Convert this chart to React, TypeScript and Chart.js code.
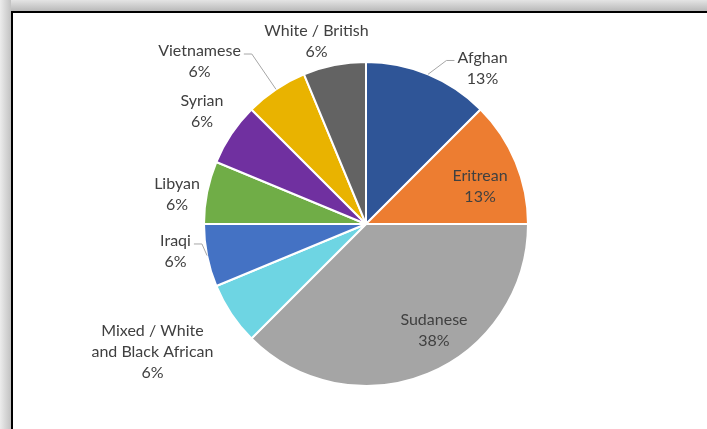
import React, { useEffect, useRef } from "react";
import { Chart, registerables } from "chart.js";

Chart.register(...registerables);

// ---- data ----
const categories: string[] = [
  "Afghan",
  "Eritrean",
  "Sudanese",
  "Mixed / White\nand Black African",
  "Iraqi",
  "Libyan",
  "Syrian",
  "Vietnamese",
  "White / British",
];
const counts: number[] = [2, 2, 6, 1, 1, 1, 1, 1, 1];
const colors: string[] = [
  "#2F5597",
  "#ED7D31",
  "#A5A5A5",
  "#6ED5E3",
  "#4472C4",
  "#70AD47",
  "#7030A0",
  "#E9B300",
  "#636363",
];

// ---- label layout (polar, relative to pie centre: degrees clockwise from top, radius factor) ----
const labelDeg: number[] = [36.75, 71.57, 147.45, 239.06, 261.79, 279.02, 304.45, 314.3, 344.82];
const labelRf: number[] = [1.202, 0.742, 0.78, 1.537, 1.188, 1.181, 1.228, 1.436, 1.167];
const leader: boolean[] = [true, false, false, false, true, false, false, true, false];

const FONT_FAMILY = "Lato, 'Open Sans', sans-serif";
const FONT_SIZE = 16;
const LINE_H = 21;
const TEXT_COLOR = "#404040";

const labelPlugin = {
  id: "excelLabels",
  afterDatasetsDraw(chart: any) {
    const ctx = chart.ctx as CanvasRenderingContext2D;
    const meta = chart.getDatasetMeta(0);
    const data = chart.data.datasets[0].data as number[];
    const total = data.reduce((a, b) => a + b, 0);
    ctx.save();
    ctx.font = `${FONT_SIZE}px ${FONT_FAMILY}`;
    ctx.textAlign = "center";
    ctx.textBaseline = "middle";
    meta.data.forEach((arc: any, i: number) => {
      const p = arc.getProps(["x", "y", "outerRadius", "startAngle", "endAngle"], true);
      const lines = String(chart.data.labels[i]).split("\n");
      lines.push(Math.round((data[i] / total) * 100) + "%");
      const a = (labelDeg[i] * Math.PI) / 180;
      const cx = p.x + Math.sin(a) * p.outerRadius * labelRf[i];
      const cy = p.y - Math.cos(a) * p.outerRadius * labelRf[i];
      const top = cy - ((lines.length - 1) * LINE_H) / 2;
      ctx.fillStyle = TEXT_COLOR;
      lines.forEach((ln, k) => ctx.fillText(ln, cx, top + k * LINE_H));
      if (leader[i]) {
        const mid = (p.startAngle + p.endAngle) / 2;
        const ex = p.x + Math.cos(mid) * p.outerRadius;
        const ey = p.y + Math.sin(mid) * p.outerRadius;
        const w = ctx.measureText(lines[0]).width;
        const right = ex > cx;
        const hx0 = right ? cx + w / 2 + 3 : cx - w / 2 - 3;
        const hx1 = right ? hx0 + 8 : hx0 - 8;
        const hy = top + 3;
        ctx.strokeStyle = "#A6A6A6";
        ctx.lineWidth = 1;
        ctx.beginPath();
        ctx.moveTo(hx0, hy);
        ctx.lineTo(hx1, hy);
        ctx.lineTo(ex, ey);
        ctx.stroke();
      }
    });
    ctx.restore();
  },
};

export default function App() {
  const ref = useRef<HTMLCanvasElement>(null);
  useEffect(() => {
    if (!ref.current) return;
    const chart = new Chart(ref.current, {
      type: "pie",
      data: {
        labels: categories,
        datasets: [
          {
            data: counts,
            backgroundColor: colors,
            borderColor: "#FFFFFF",
            borderWidth: 2,
          },
        ],
      },
      options: {
        animation: false,
        responsive: false,
        maintainAspectRatio: false,
        layout: { padding: { left: 203, top: 61, right: 178, bottom: 42 } },
        plugins: {
          legend: { display: false },
          tooltip: { enabled: false },
        },
      },
      plugins: [labelPlugin],
    });
    return () => chart.destroy();
  }, []);

  return (
    <div style={{ position: "fixed", left: 0, top: 0, width: 707, height: 429, overflow: "hidden", background: "#d4d4d4" }}>
      <div style={{ position: "absolute", left: 0, top: 0, width: 707, height: 11, background: "linear-gradient(to bottom, #e4e4e4, #b9b9b9)" }} />
      <div style={{ position: "absolute", left: 0, top: 0, width: 11, height: 429, background: "linear-gradient(to right, #ececec, #c2c2c2)" }} />
      <div style={{ position: "absolute", left: 11, top: 11, width: 696, height: 418, borderTop: "2px solid #000", borderLeft: "2px solid #000", background: "#fff" }} />
      <canvas ref={ref} width={707} height={429} style={{ position: "absolute", left: 0, top: 0, width: 707, height: 429 }} />
    </div>
  );
}
